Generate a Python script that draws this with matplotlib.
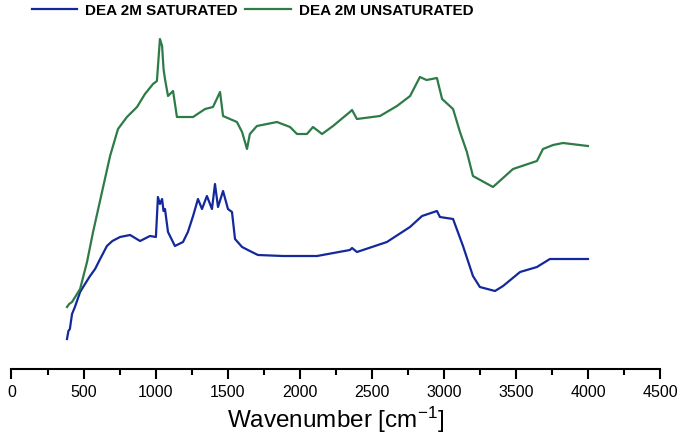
import matplotlib
matplotlib.use("Agg")
import matplotlib.pyplot as plt
from matplotlib.ticker import MultipleLocator

plt.rcParams['font.family'] = ['Liberation Sans', 'DejaVu Sans']
plt.rcParams['mathtext.default'] = 'regular'

# spectra (wavenumber, signal in arbitrary units)
sat_wn = [385, 395, 405, 420, 440, 476, 510, 545, 580, 615, 662, 700, 753, 823, 892, 961,
          1002, 1016, 1030, 1045, 1055, 1065, 1086, 1134, 1190, 1224, 1260, 1294, 1322,
          1356, 1391, 1412, 1433, 1468, 1502, 1530, 1551, 1600, 1654, 1710, 1884, 2120,
          2348, 2363, 2397, 2605, 2765, 2849, 2952, 2973, 3064, 3133, 3202, 3250, 3355,
          3411, 3529, 3646, 3736, 4000]
sat_val = [30, 38, 40, 55, 62, 77, 85, 93, 100, 110, 123, 128, 132, 134, 128, 133,
           132, 172, 165, 170, 158, 160, 137, 123, 127, 137, 153, 170, 160,
           173, 160, 185, 162, 178, 160, 157, 130, 122, 118, 114, 113, 113,
           119, 121, 117, 127, 142, 153, 158, 152, 150, 123, 93, 82, 78,
           83, 97, 102, 110, 110]

unsat_wn = [385, 400, 420, 476, 524, 566, 628, 684, 739, 801, 871, 926, 982, 1009, 1030,
            1045, 1055, 1065, 1086, 1121, 1148, 1260, 1343, 1398, 1447, 1468, 1564, 1600,
            1634, 1654, 1703, 1842, 1933, 1981, 2050, 2092, 2155, 2231, 2348, 2363, 2397,
            2557, 2675, 2766, 2834, 2880, 2952, 2988, 3064, 3112, 3160, 3202, 3341, 3480,
            3646, 3688, 3758, 3827, 4000]
unsat_val = [62, 65, 67, 80, 107, 137, 177, 213, 240, 252, 262, 275, 285, 288, 330,
             323, 300, 290, 273, 278, 252, 252, 260, 262, 277, 253, 247, 237,
             220, 235, 243, 247, 242, 235, 235, 242, 235, 243, 257, 259, 250,
             253, 263, 273, 292, 289, 291, 270, 260, 237, 217, 193, 182, 200,
             208, 220, 224, 226, 223]

labels = ['DEA 2M SATURATED', 'DEA 2M UNSATURATED']
colors = ['#13299b', '#2e7b48']

fig = plt.figure(figsize=(6.88, 4.35), dpi=100)
ax = fig.add_axes([11.5 / 688, 65 / 435, (660 - 11.5) / 688, 350 / 435])

ax.plot(sat_wn, sat_val, color=colors[0], lw=1.6, label=labels[0])
ax.plot(unsat_wn, unsat_val, color=colors[1], lw=1.6, label=labels[1])

ax.set_xlim(0, 4500)
ax.set_ylim(0, 350)
ax.xaxis.set_major_locator(MultipleLocator(500))
ax.xaxis.set_minor_locator(MultipleLocator(250))
ax.tick_params(axis='x', which='major', length=7, width=1.5, labelsize=11.5, pad=4)
ax.tick_params(axis='x', which='minor', length=4, width=1.5)
ax.set_yticks([])
for side in ['left', 'right', 'top']:
    ax.spines[side].set_visible(False)
ax.spines['bottom'].set_linewidth(1.5)
ax.set_xlabel('Wavenumber [cm$^{-1}$]', fontsize=17.5, labelpad=3)

fig.legend(loc='center', bbox_to_anchor=(0.367, 1 - 11 / 435), ncol=2, frameon=False,
           prop={'weight': 'bold', 'size': 11}, handlelength=3.0, columnspacing=0.5,
           handletextpad=0.5)

plt.savefig('out.png', dpi=100)
